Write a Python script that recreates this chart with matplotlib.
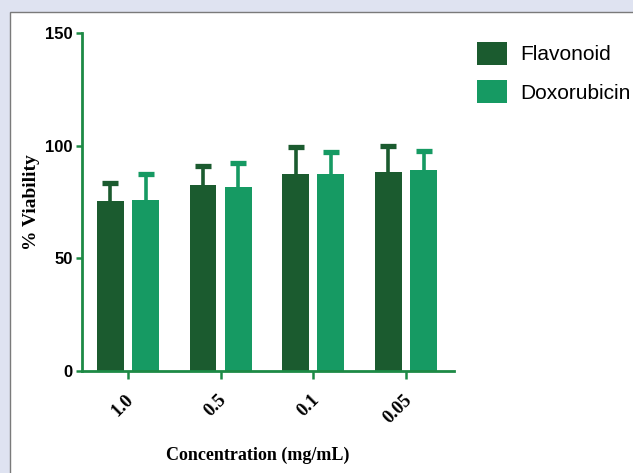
import numpy as np
import matplotlib
matplotlib.use("Agg")
import matplotlib.pyplot as plt
import matplotlib.transforms as mtransforms
from matplotlib.patches import Rectangle

# -----------------------------------
# Data
# -----------------------------------
concentrations = ["1.0", "0.5", "0.1", "0.05"]
series_names = ["Flavonoid", "Doxorubicin"]
flavonoid_mean = [75.5, 82.5, 87.5, 88.5]
flavonoid_err = [8.0, 8.5, 12.0, 11.5]
doxorubicin_mean = [76.0, 81.5, 87.5, 89.0]
doxorubicin_err = [11.5, 11.0, 9.5, 8.5]

dark_green = "#1b5b2f"
light_green = "#169a63"
axis_green = "#1d8a45"

sans = ["Liberation Sans", "DejaVu Sans"]
serif = ["Liberation Serif", "DejaVu Serif"]

# -----------------------------------
# Figure and white panel
# -----------------------------------
fig = plt.figure(figsize=(6.33, 4.73), dpi=100)
fig.patch.set_facecolor("#dfe3f1")
fig.patches.append(Rectangle((10 / 633, -0.05), 1.1, (473 - 12) / 473 + 0.05,
                             transform=fig.transFigure, facecolor="white",
                             edgecolor="#7a7a7a", linewidth=1.0, zorder=-1))

ax = fig.add_axes([82 / 633, 102 / 473, 372 / 633, 338 / 473])
ax.set_facecolor("none")
ax.set_zorder(2)

x = np.arange(len(concentrations))
width = 0.29
offset = 0.19


def bars_with_upper_error(pos, mean, err, color, label):
    mean = np.asarray(mean)
    top = mean + np.asarray(err)
    ax.bar(pos, mean, width=width, color=color, label=label, linewidth=0, zorder=3)
    ax.vlines(pos, mean, top, color=color, linewidth=2.6, zorder=2)
    ax.plot(pos, top, linestyle="none", marker="_", markersize=12,
            markeredgewidth=3.8, color=color, zorder=2)


bars_with_upper_error(x - offset, flavonoid_mean, flavonoid_err, dark_green, series_names[0])
bars_with_upper_error(x + offset, doxorubicin_mean, doxorubicin_err, light_green, series_names[1])

ax.set_xlim(-0.496, 3.518)
ax.set_ylim(0, 150)
ax.set_yticks([0, 50, 100, 150])
ax.set_xticks(x)

for side in ["top", "right"]:
    ax.spines[side].set_visible(False)
for side in ["left", "bottom"]:
    ax.spines[side].set_color(axis_green)
    ax.spines[side].set_linewidth(2.0)
    ax.spines[side].set_zorder(4)

ax.tick_params(axis="y", colors=axis_green, length=4.5, width=1.8, pad=2)
ax.tick_params(axis="x", colors=axis_green, length=6, width=1.8, pad=13)

ax.set_yticklabels([str(v) for v in [0, 50, 100, 150]],
                   family=sans, fontweight="bold", fontsize=12, color="black")
ax.set_xticklabels(concentrations, family=serif, fontweight="bold", fontsize=13.5,
                   color="black", rotation=45, ha="right", va="center",
                   rotation_mode="anchor")
shift = mtransforms.ScaledTranslation(3 / 100, 0, fig.dpi_scale_trans)
for lbl in ax.get_xticklabels():
    lbl.set_transform(lbl.get_transform() + shift)

fig.text(31 / 633, 1 - 202 / 473, "% Viability", family=serif, fontweight="bold",
         fontsize=14, rotation=90, ha="center", va="center")
fig.text(258 / 633, 1 - 455 / 473, "Concentration (mg/mL)", family=serif,
         fontweight="bold", fontsize=13, ha="center", va="center")

fig.legend(loc="upper left", bbox_to_anchor=(477 / 633, 1 - 42 / 473),
           prop={"family": sans, "size": 15}, frameon=False,
           handlelength=1.44, handleheight=1.3, handletextpad=0.62,
           labelspacing=0.75, borderpad=0, borderaxespad=0)

fig.savefig("out.png", dpi=100, facecolor=fig.get_facecolor())
